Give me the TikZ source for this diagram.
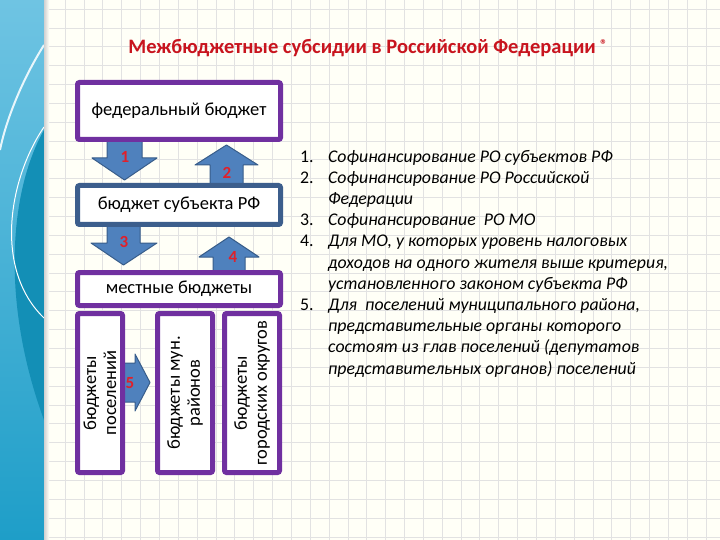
\documentclass[tikz,border=0pt]{standalone}
\usepackage{fontspec}
\setmainfont{Carlito}
\usetikzlibrary{positioning,calc}
\definecolor{budgetpurple}{HTML}{7030A0}
\definecolor{subjblue}{HTML}{3C5E8C}
\definecolor{arrowblue}{HTML}{4F81BD}
\definecolor{arrowedge}{HTML}{385D8A}
\definecolor{numred}{HTML}{E0202A}
\definecolor{titlered}{HTML}{C8141E}
\definecolor{gridgray}{HTML}{E2E2E2}
\definecolor{bandlight}{HTML}{6FC4E3}
\definecolor{banddark}{HTML}{1E9EC8}
\definecolor{bandswirl}{HTML}{138FB6}

\begin{document}
\begin{tikzpicture}[x=1pt,y=-1pt,
    budget/.style={draw=budgetpurple, line width=5pt, fill=white, rounded corners=2pt,
        inner sep=0pt, font=\fontsize{18.5}{20}\selectfont},
    subjbox/.style={budget, draw=subjblue},
    column/.style={budget, rotate=90, align=center, minimum width=159pt,
        font=\fontsize{18.5}{20}\selectfont},
    blockarr/.style={fill=arrowblue, draw=arrowedge, line width=1pt, line join=round},
    num/.style={text=numred, inner sep=0pt, font=\bfseries\fontsize{17}{18}\selectfont}]
    \useasboundingbox (0,0) rectangle (720,540);
    \fill[white!97!yellow] (0,0) rectangle (720,540);

    % Grid
    \foreach \gx in {0,...,37} {
        \draw[gridgray, line width=0.6pt] (8.5+18.85*\gx,0) -- (8.5+18.85*\gx,540);
    }
    \foreach \gy in {0,...,28} {
        \draw[gridgray, line width=0.6pt] (0,9+18.85*\gy) -- (720,9+18.85*\gy);
    }

    % Left band
    \shade[top color=bandlight, bottom color=banddark] (0,0) rectangle (44,540);
    \fill[bandswirl] (44,130) .. controls (10,190) and (0,300) .. (44,420) -- cycle;
    \draw[white!85!bandlight, line width=2pt] (44,45) .. controls (22,80) and (6,120) .. (0,150);
    \draw[white, line width=1pt] (44,127) .. controls (8,180) and (-6,270) .. (44,318);
    \shade[left color=black!18, right color=white!97!yellow] (44,0) rectangle (49,540);

    % Title
    \node[text=titlered, font=\bfseries\fontsize{20.5}{22}\selectfont] (title) at (368,48)
        {Межбюджетные субсидии в Российской Федерации \raisebox{4pt}{\fontsize{14}{14}\selectfont ®}};

    % Block arrows
    \draw[blockarr] (107,140) -- (142,140) -- (142,158) -- (157,158) -- (124.5,180)
        -- (92,158) -- (107,158) -- cycle;
    \draw[blockarr] (210,185) -- (243,185) -- (243,165) -- (258,165) -- (226.5,145)
        -- (195,165) -- (210,165) -- cycle;
    \draw[blockarr] (107,225) -- (140,225) -- (140,243) -- (157,243) -- (123.5,265)
        -- (91,243) -- (107,243) -- cycle;
    \draw[blockarr] (213,272) -- (245,272) -- (245,257) -- (259,257) -- (229,237)
        -- (199,257) -- (213,257) -- cycle;
    \draw[blockarr] (123,363) -- (135,363) -- (135,354) -- (150,382.5) -- (135,411)
        -- (135,402) -- (123,402) -- cycle;

    % Budget levels
    \node[budget, minimum width=203pt, minimum height=57pt] (federal) at (179,111)
        {федеральный бюджет};
    \node[subjbox, minimum width=203pt, minimum height=39pt] (subject) at (179,205)
        {бюджет субъекта РФ};
    \node[budget, minimum width=203pt, minimum height=33pt] (local) at (179,289)
        {местные бюджеты};

    % Local budget columns
    \node[column, minimum height=45pt] (settle) at (100,393) {бюджеты\\поселений};
    \node[column, minimum height=55pt] (district) at (185,393) {бюджеты мун.\\районов};
    \node[column, minimum height=55pt] (urban) at (252,393) {бюджеты\\городских округов};

    % Arrow numbers
    \node[num] (n1) at (125,157) {1};
    \node[num] (n2) at (227,173) {2};
    \node[num] (n3) at (124,242) {3};
    \node[num] (n4) at (233,257) {4};
    \node[num] (n5) at (130,383) {5};

    % Legend
    \node[anchor=north west, inner sep=0pt, font=\itshape\fontsize{17.8}{21.2}\selectfont]
        (legend) at (300,147) {%
        \begin{tabular}{@{}p{28pt}@{}l@{}}
            \textup{1.} & Софинансирование РО субъектов РФ\\
            \textup{2.} & Софинансирование РО Российской\\
                        & Федерации\\
            \textup{3.} & Софинансирование\ \ РО МО\\
            \textup{4.} & Для МО, у которых уровень налоговых\\
                        & доходов на одного жителя выше критерия,\\
                        & установленного законом субъекта РФ\\
            \textup{5.} & Для\ \ поселений муниципального района,\\
                        & представительные органы которого\\
                        & состоят из глав поселений (депутатов\\
                        & представительных органов) поселений
        \end{tabular}};
\end{tikzpicture}
\end{document}
